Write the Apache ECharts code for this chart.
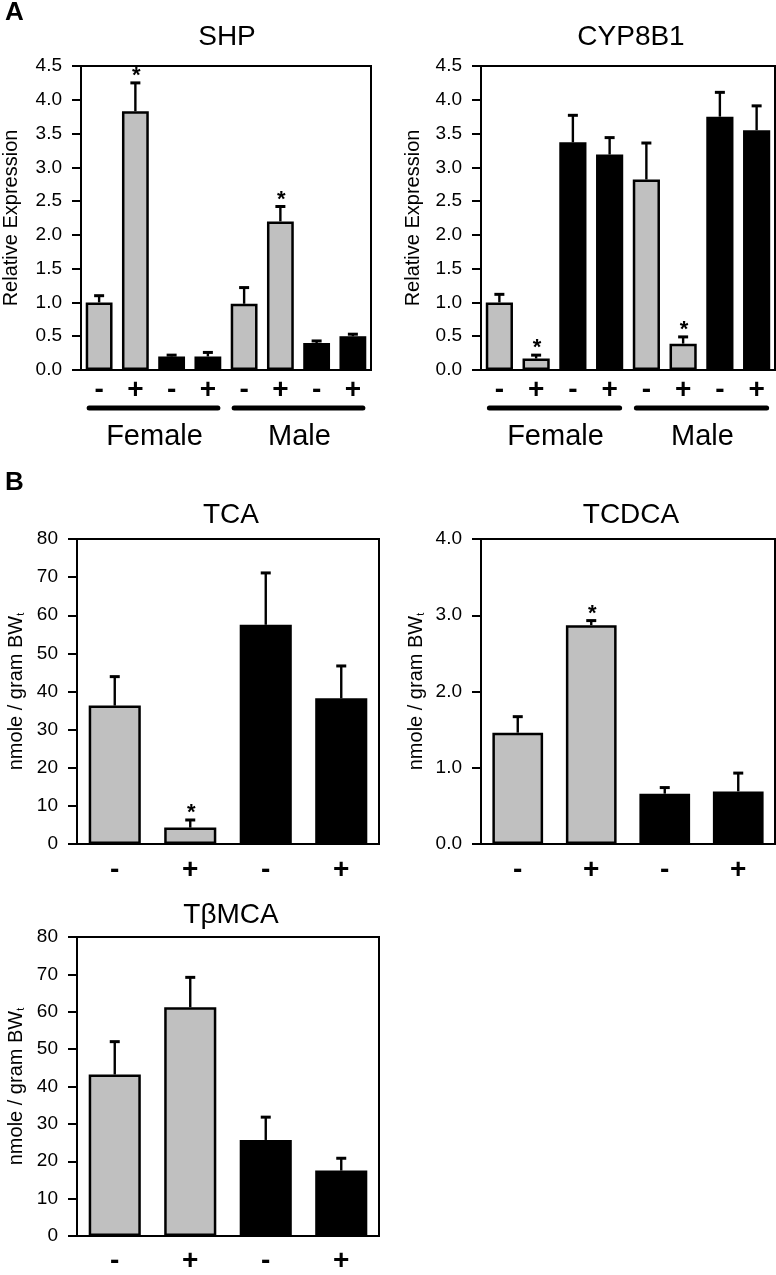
<!DOCTYPE html>
<html>
<head>
<meta charset="utf-8">
<script src="https://cdn.jsdelivr.net/npm/echarts@6/dist/echarts.min.js"></script>
<style>
  html, body { margin: 0; padding: 0; background: #fff; }
  #chart { width: 776px; height: 1275px; }
</style>
</head>
<body>
<div id="chart"></div>
<script>
// data
var signsA = ['-', '+', '-', '+', '-', '+', '-', '+'];
var signsB = ['-', '+', '-', '+'];
var shadeA = ['g', 'g', 'b', 'b', 'g', 'g', 'b', 'b'];
var shadeB = ['g', 'g', 'b', 'b'];
var groupNames = ['Female', 'Male'];
var groupRanges = [[0, 3], [4, 7]];

var shpMean = [1.0, 3.83, 0.2, 0.2, 0.98, 2.2, 0.4, 0.5];
var shpErr = [0.1, 0.42, 0.02, 0.06, 0.24, 0.22, 0.03, 0.03];
var shpStar = [1, 5];

var cypMean = [1.0, 0.17, 3.37, 3.19, 2.82, 0.39, 3.75, 3.55];
var cypErr = [0.12, 0.05, 0.4, 0.25, 0.54, 0.1, 0.36, 0.36];
var cypStar = [1, 5];

var tcaMean = [36.3, 4.3, 57.5, 38.2];
var tcaErr = [7.6, 2.0, 13.6, 8.5];
var tcaStar = [1];

var tcdcaMean = [1.46, 2.87, 0.66, 0.69];
var tcdcaErr = [0.21, 0.06, 0.08, 0.24];
var tcdcaStar = [1];

var tbmcaMean = [43.2, 61.2, 25.7, 17.5];
var tbmcaErr = [8.8, 8.0, 6.1, 3.3];
var tbmcaStar = [];

var FONT = 'Liberation Sans, Arial, sans-serif';
var GRAY = '#c0c0c0';

var panels = [
  { title: 'SHP', mean: shpMean, err: shpErr, star: shpStar, signs: signsA, shade: shadeA,
    max: 4.5, interval: 0.5, dec: 1, yname: 'Relative Expression', groups: true,
    grid: { left: 77, top: 66, width: 294, height: 304 }, gap: '26%', lblMargin: 6, nameGap: 60, titleUp: 48 },
  { title: 'CYP8B1', mean: cypMean, err: cypErr, star: cypStar, signs: signsA, shade: shadeA,
    max: 4.5, interval: 0.5, dec: 1, yname: 'Relative Expression', groups: true,
    grid: { left: 481, top: 66, width: 294, height: 304 }, gap: '26%', lblMargin: 6, nameGap: 58, titleUp: 48 },
  { title: 'TCA', mean: tcaMean, err: tcaErr, star: tcaStar, signs: signsB, shade: shadeB,
    max: 80, interval: 10, dec: 0, yname: 'nmole / gram BW{s|t}', groups: false,
    grid: { left: 77, top: 539, width: 302, height: 305 }, gap: '31%', lblMargin: 12, nameGap: 51, titleUp: 43 },
  { title: 'TCDCA', mean: tcdcaMean, err: tcdcaErr, star: tcdcaStar, signs: signsB, shade: shadeB,
    max: 4, interval: 1, dec: 1, yname: 'nmole / gram BW{s|t}', groups: false,
    grid: { left: 481, top: 539, width: 294, height: 305 }, gap: '31%', lblMargin: 12, nameGap: 55, titleUp: 43 },
  { title: 'T\u03b2MCA', mean: tbmcaMean, err: tbmcaErr, star: tbmcaStar, signs: signsB, shade: shadeB,
    max: 80, interval: 10, dec: 0, yname: 'nmole / gram BW{s|t}', groups: false,
    grid: { left: 77, top: 937, width: 302, height: 305 }, gap: '31%', lblMargin: 11, nameGap: 51, titleUp: 41 }
];

var chart = echarts.init(document.getElementById('chart'));

var grids = [], xAxes = [], yAxes = [], series = [], titles = [];

titles.push({ text: 'A', left: 0, top: -5, textStyle: { fontFamily: FONT, fontSize: 26, fontWeight: 'bold', color: '#000' } });
titles.push({ text: 'B', left: 0, top: 465, textStyle: { fontFamily: FONT, fontSize: 26, fontWeight: 'bold', color: '#000' } });

panels.forEach(function (p, i) {
  var g = p.grid;
  grids.push({
    left: g.left, top: g.top, width: g.width, height: g.height,
    show: true, borderColor: '#000', borderWidth: 2, backgroundColor: 'transparent'
  });
  titles.push({
    text: p.title, left: g.left + g.width / 2 - 2, top: g.top - p.titleUp, textAlign: 'center',
    textStyle: { fontFamily: FONT, fontSize: 28, fontWeight: 'normal', color: '#000' }
  });
  xAxes.push({
    type: 'category', gridIndex: i, data: p.signs,
    axisLine: { lineStyle: { color: '#000', width: 2 } },
    axisTick: { show: false },
    axisLabel: { color: '#000', fontFamily: FONT, fontSize: 28, fontWeight: 'bold', margin: p.lblMargin, interval: 0 },
    splitLine: { show: false }
  });
  yAxes.push({
    type: 'value', gridIndex: i, min: 0, max: p.max, interval: p.interval,
    axisLine: { show: true, lineStyle: { color: '#000', width: 2 } },
    axisTick: { show: true, inside: false, length: 9, lineStyle: { color: '#000', width: 2 } },
    axisLabel: {
      color: '#000', fontFamily: FONT, fontSize: 19, margin: 19,
      formatter: function (v) { return v.toFixed(p.dec); }
    },
    splitLine: { show: false },
    name: p.yname, nameLocation: 'middle', nameGap: p.nameGap, nameRotate: 90,
    nameTextStyle: {
      color: '#000', fontFamily: FONT, fontSize: 20,
      rich: { s: { fontFamily: FONT, fontSize: 11, color: '#000', verticalAlign: 'bottom', padding: [9, 0, 0, 0] } }
    }
  });

  series.push({
    type: 'bar', xAxisIndex: i, yAxisIndex: i, barCategoryGap: p.gap,
    data: p.mean.map(function (v, k) {
      var gray = p.shade[k] === 'g';
      return { value: v, itemStyle: { color: gray ? GRAY : '#000', borderColor: '#000', borderWidth: gray ? 2.5 : 0 } };
    }),
    silent: true, z: 2
  });

  // upper error bars + significance stars
  series.push({
    type: 'custom', xAxisIndex: i, yAxisIndex: i, clip: false, silent: true, z: 3,
    data: p.mean.map(function (v, k) { return [k, v, v + p.err[k], p.star.indexOf(k) >= 0 ? 1 : 0]; }),
    renderItem: function (params, api) {
      var base = api.coord([api.value(0), api.value(1)]);
      var top = api.coord([api.value(0), api.value(2)]);
      var kids = [
        { type: 'line', shape: { x1: base[0], y1: base[1], x2: top[0], y2: top[1] }, style: { stroke: '#000', lineWidth: 2.4 } },
        { type: 'line', shape: { x1: top[0] - 5, y1: top[1], x2: top[0] + 5, y2: top[1] }, style: { stroke: '#000', lineWidth: 3 } }
      ];
      if (api.value(3)) {
        kids.push({ type: 'text', style: { text: '*', x: top[0] + 1, y: top[1] - 7, align: 'center', verticalAlign: 'middle', fontFamily: FONT, fontSize: 22, fontWeight: 'bold', fill: '#000' } });
      }
      return { type: 'group', children: kids };
    }
  });

  if (p.groups) {
    series.push({
      type: 'custom', xAxisIndex: i, yAxisIndex: i, clip: false, silent: true,
      data: groupRanges.map(function (r) { return [r[0], r[1], 0]; }),
      encode: { x: [0, 1], y: 2 },
      renderItem: function (params, api) {
        var a = api.coord([api.value(0), 0]);
        var b = api.coord([api.value(1), 0]);
        return {
          type: 'group', children: [
            { type: 'line', shape: { x1: a[0] - 10, y1: a[1] + 38, x2: b[0] + 10, y2: a[1] + 38 }, style: { stroke: '#000', lineWidth: 5, lineCap: 'round' } },
            { type: 'text', style: { text: groupNames[params.dataIndex], x: (a[0] + b[0]) / 2 + 1, y: a[1] + 67, align: 'center', verticalAlign: 'middle', fontFamily: FONT, fontSize: 29, fill: '#000' } }
          ]
        };
      }
    });
  }
});

chart.setOption({
  animation: false,
  backgroundColor: '#fff',
  title: titles,
  grid: grids,
  xAxis: xAxes,
  yAxis: yAxes,
  series: series
});
window.addEventListener('resize', function () { chart.resize(); });
</script>
</body>
</html>
